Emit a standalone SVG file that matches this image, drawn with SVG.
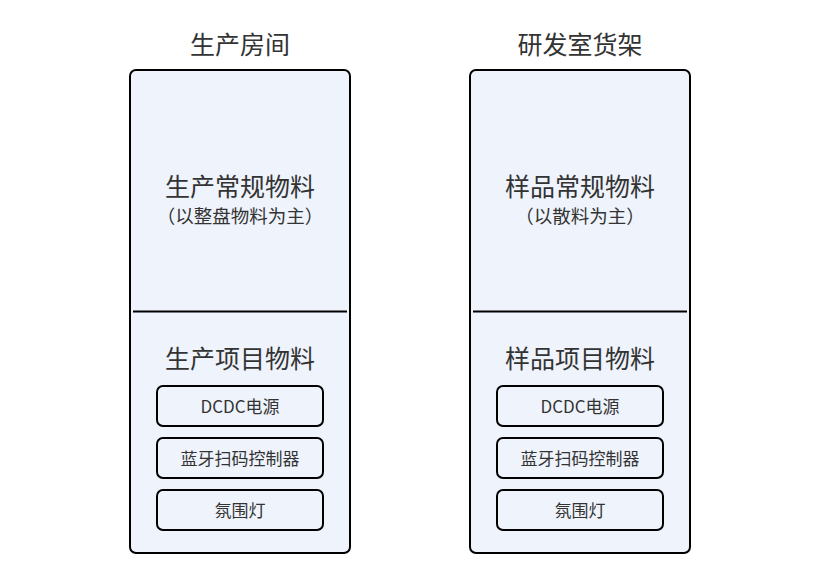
<svg xmlns="http://www.w3.org/2000/svg" width="830" height="583" viewBox="0 0 830 583">
<style>
text{font-family:"Noto Sans CJK SC","Noto Sans",sans-serif;fill:#333;text-anchor:middle;dominant-baseline:central}
.outer{fill:#eff3fc;stroke:#000;stroke-width:2}
.item{fill:#eff3fc;stroke:#000;stroke-width:2}
.div{stroke:#000;stroke-width:2}
.t1{font-size:25px}
.t2{font-size:18.5px}
.t3{font-size:17px}
</style>
<rect width="830" height="583" fill="#fff"/>
<g id="left">
<text class="t1" x="240" y="42.5">生产房间</text>
<rect class="outer" x="130" y="70" width="220" height="483" rx="6"/>
<line class="div" x1="133" y1="311.5" x2="347" y2="311.5"/>
<text class="t1" x="240" y="184.5">生产常规物料</text>
<text class="t2" x="240" y="215">（以整盘物料为主）</text>
<text class="t1" x="240" y="356.5">生产项目物料</text>
</g>
<g id="left-dcdc"><rect class="item" x="157" y="386" width="166" height="40" rx="6"/><text class="t3" x="240" y="405">DCDC电源</text></g>
<g id="left-bt"><rect class="item" x="157" y="438" width="166" height="40" rx="6"/><text class="t3" x="240" y="457">蓝牙扫码控制器</text></g>
<g id="left-light"><rect class="item" x="157" y="490" width="166" height="40" rx="6"/><text class="t3" x="240" y="509">氛围灯</text></g>
<g id="right">
<text class="t1" x="580" y="42.5">研发室货架</text>
<rect class="outer" x="470" y="70" width="220" height="483" rx="6"/>
<line class="div" x1="473" y1="311.5" x2="687" y2="311.5"/>
<text class="t1" x="580" y="184.5">样品常规物料</text>
<text class="t2" x="580" y="215">（以散料为主）</text>
<text class="t1" x="580" y="356.5">样品项目物料</text>
</g>
<g id="right-dcdc"><rect class="item" x="497" y="386" width="166" height="40" rx="6"/><text class="t3" x="580" y="405">DCDC电源</text></g>
<g id="right-bt"><rect class="item" x="497" y="438" width="166" height="40" rx="6"/><text class="t3" x="580" y="457">蓝牙扫码控制器</text></g>
<g id="right-light"><rect class="item" x="497" y="490" width="166" height="40" rx="6"/><text class="t3" x="580" y="509">氛围灯</text></g>
<g id="connectors"/>
</svg>
